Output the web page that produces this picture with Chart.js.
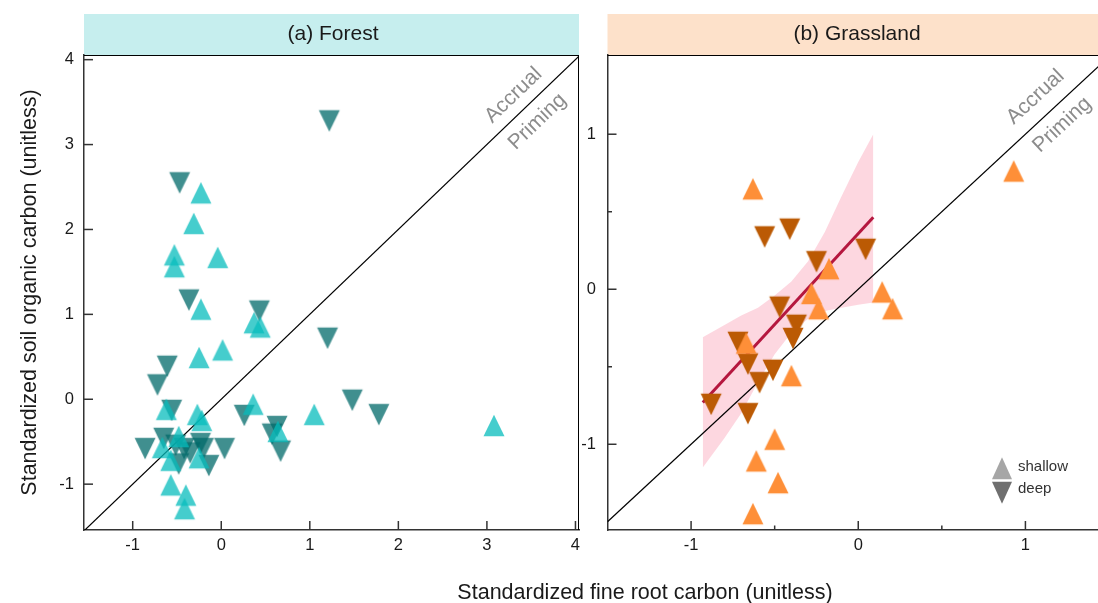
<!DOCTYPE html>
<html>
<head>
<meta charset="utf-8">
<script src="https://cdn.jsdelivr.net/npm/chart.js@4.4.0/dist/chart.umd.min.js"></script>
<style>
  html, body { margin: 0; padding: 0; background: #fff; overflow: hidden; }
  #wrap { position: relative; width: 1098px; height: 603px; overflow: hidden; font-family: 'Liberation Sans', Arial, Helvetica, sans-serif; }
  #boxB { position: absolute; left: 560px; top: 0; width: 560px; height: 603px; }
  #boxA { position: absolute; left: 0; top: 0; width: 590px; height: 603px; }
  #xtitle { position: absolute; left: 0; top: 580px; width: 1290px; text-align: center; font-size: 21.5px; line-height: 25px; color: #1a1a1a; }
</style>
</head>
<body>
<div id="wrap">
  <div id="boxB"><canvas id="grassChart"></canvas></div>
  <div id="boxA"><canvas id="forestChart"></canvas></div>
  <div id="xtitle">Standardized fine root carbon (unitless)</div>
</div>
<script>
// Forest: shallow (up triangles) and deep (down triangles)
const forestShallowX = [-0.23, -0.31, -0.53, -0.53, -0.04, -0.23, 0.37, 0.44, 0.015, -0.25, -0.62, 0.36, 1.05, 3.08, -0.27, -0.22, 0.64, -0.48, -0.665, -0.57, -0.25, -0.57, -0.40, -0.415];
const forestShallowY = [2.39, 2.03, 1.66, 1.52, 1.63, 1.02, 0.86, 0.81, 0.54, 0.45, -0.16, -0.10, -0.22, -0.35, -0.22, -0.29, -0.42, -0.48, -0.61, -0.76, -0.73, -1.05, -1.17, -1.33];
const forestDeepX = [1.22, -0.47, -0.365, 0.43, 1.20, -0.61, -0.72, -0.56, 0.26, 1.48, 1.78, 0.63, 0.575, 0.67, -0.65, -0.86, -0.515, -0.42, -0.35, -0.235, -0.20, 0.037, -0.48, -0.14];
const forestDeepY = [3.32, 2.59, 1.21, 1.08, 0.76, 0.43, 0.21, -0.09, -0.15, 0.03, -0.14, -0.28, -0.37, -0.57, -0.42, -0.54, -0.50, -0.54, -0.59, -0.48, -0.54, -0.54, -0.72, -0.74];

// Grassland
const grassShallowX = [0.93, -0.63, -0.175, 0.143, 0.205, -0.28, -0.237, -0.67, -0.40, -0.50, -0.61, -0.48, -0.63];
const grassShallowY = [0.74, 0.625, 0.11, -0.04, -0.148, -0.05, -0.148, -0.37, -0.58, -0.99, -1.13, -1.27, -1.47];
const grassDeepX = [-0.56, -0.41, -0.25, 0.044, -0.47, -0.37, -0.39, -0.72, -0.66, -0.51, -0.59, -0.88, -0.66];
const grassDeepY = [0.36, 0.41, 0.20, 0.28, -0.093, -0.21, -0.295, -0.32, -0.46, -0.50, -0.58, -0.72, -0.78];

// grassland fit and its confidence band
const fitX = [-0.93, 0.09];
const fitY = [-0.73, 0.465];
const bandX = [-0.93, -0.8, -0.7, -0.6, -0.5, -0.4, -0.3, -0.2, -0.1, 0, 0.09];
const bandUpper = [-0.31, -0.23, -0.17, -0.12, -0.04, 0.05, 0.18, 0.37, 0.6, 0.82, 1.0];
const bandLower = [-1.15, -0.96, -0.8, -0.6, -0.42, -0.28, -0.19, -0.14, -0.12, -0.1, -0.086];

// axis ranges and ticks
const forestXRange = [-1.55, 4.04];
const forestYRange = [-1.54, 4.055];
const forestTicks = [-1, 0, 1, 2, 3, 4];
const grassXRange = [-1.5, 1.5];
const grassYRange = [-1.553, 1.511];
const grassTicks = [-1, 0, 1];
const grassMinorTicks = [-0.5, 0.5];

Chart.defaults.font.family = "'Liberation Sans', Arial, Helvetica, sans-serif";
Chart.defaults.color = '#1a1a1a';

function pts(xs, ys) {
    return xs.map((x, i) => ({ x: x, y: ys[i] }));
}

// triangle drawn with its centroid at the middle of a small canvas
function triangleImage(color, w, h, down) {
    var s = Math.ceil(h * 2 / 3) * 2 + 2;
    var c = document.createElement('canvas');
    c.width = s; c.height = s;
    var g = c.getContext('2d');
    var m = s / 2, d = down ? -1 : 1;
    g.fillStyle = color;
    g.beginPath();
    g.moveTo(m, m - d * h * 2 / 3);
    g.lineTo(m + w / 2, m + d * h / 3);
    g.lineTo(m - w / 2, m + d * h / 3);
    g.closePath();
    g.fill();
    return c;
}

function drawTri(ctx, cx, cy, w, h, down, color) {
    var d = down ? -1 : 1;
    ctx.fillStyle = color;
    ctx.beginPath();
    ctx.moveTo(cx, cy - d * h * 2 / 3);
    ctx.lineTo(cx + w / 2, cy + d * h / 3);
    ctx.lineTo(cx - w / 2, cy + d * h / 3);
    ctx.closePath();
    ctx.fill();
}

function panelPlugin(opts) {
    return {
        id: 'panel',
        beforeDraw(chart) {
            var ctx = chart.ctx, a = chart.chartArea;
            ctx.save();
            if (opts.whiteArea) {
                // panel background also hides the minus of the neighbour's -1
                ctx.fillStyle = '#fff';
                ctx.fillRect(a.left, a.top, a.right - a.left + 1.5, a.bottom - a.top);
            }
            // strip header
            ctx.fillStyle = opts.stripColor;
            ctx.fillRect(a.left, 14, a.right - a.left, a.top - 14);
            ctx.fillStyle = '#1a1a1a';
            ctx.font = "21px 'Liberation Sans', Arial, sans-serif";
            ctx.textAlign = 'center';
            ctx.textBaseline = 'middle';
            ctx.fillText(opts.title, opts.titleX !== undefined ? opts.titleX : (a.left + a.right) / 2 + 1.5, 34.5);
            ctx.restore();
        },
        afterDatasetsDraw(chart) {
            var ctx = chart.ctx, x = chart.scales.x, y = chart.scales.y;
            var ang = Math.atan2(y.getPixelForValue(0) - y.getPixelForValue(1), x.getPixelForValue(1) - x.getPixelForValue(0));
            ctx.save();
            ctx.fillStyle = '#8c8c8c';
            ctx.font = "21px 'Liberation Sans', Arial, sans-serif";
            ctx.textAlign = 'center';
            ctx.textBaseline = 'middle';
            opts.notes.forEach(function (n) {
                ctx.save();
                ctx.translate(x.getPixelForValue(n.x), y.getPixelForValue(n.y));
                ctx.rotate(-ang);
                ctx.fillText(n.text, 0, 0);
                ctx.restore();
            });
            ctx.restore();
        },
        afterDraw(chart) {
            var ctx = chart.ctx, a = chart.chartArea, x = chart.scales.x, y = chart.scales.y;
            ctx.save();
            // thin frame on top and right
            ctx.strokeStyle = '#000';
            ctx.lineWidth = 1;
            ctx.beginPath();
            ctx.moveTo(a.left, a.top + 0.5);
            ctx.lineTo(a.right, a.top + 0.5);
            ctx.moveTo(a.right - 0.5, a.top);
            ctx.lineTo(a.right - 0.5, a.bottom);
            ctx.stroke();
            // inward tick marks
            ctx.strokeStyle = '#333';
            ctx.lineWidth = 1.5;
            x.ticks.forEach(function (t) {
                var px = x.getPixelForValue(t.value);
                var len = t.label === '' ? 4.5 : 9;
                ctx.beginPath();
                ctx.moveTo(px, a.bottom);
                ctx.lineTo(px, a.bottom - len);
                ctx.stroke();
            });
            y.ticks.forEach(function (t) {
                var py = y.getPixelForValue(t.value);
                var len = t.label === '' ? 4.5 : 9;
                ctx.beginPath();
                ctx.moveTo(a.left, py);
                ctx.lineTo(a.left + len, py);
                ctx.stroke();
            });
            if (opts.legend) {
                var lx = a.right - 107, ly = a.bottom - 58;
                drawTri(ctx, lx, ly, 20, 22, false, '#a6a6a6');
                drawTri(ctx, lx, ly + 17, 20, 22, true, '#6f6f6f');
                ctx.fillStyle = '#333';
                ctx.font = "15px 'Liberation Sans', Arial, sans-serif";
                ctx.textAlign = 'left';
                ctx.textBaseline = 'middle';
                ctx.fillText('shallow', lx + 16, ly - 5);
                ctx.fillText('deep', lx + 16, ly + 17);
            }
            ctx.restore();
        }
    };
}

function axisOpts(range, ticks, minor, width, height, pad, title) {
    var all = ticks.concat(minor || []);
    var o = {
        type: 'linear',
        min: range[0],
        max: range[1],
        grid: { display: false, drawTicks: false },
        border: { display: true, color: '#333', width: 1.5 },
        afterBuildTicks: function (s) { s.ticks = all.map(function (v) { return { value: v }; }); },
        ticks: {
            font: { size: 16.5 },
            color: '#1a1a1a',
            padding: pad,
            maxRotation: 0,
            autoSkip: false,
            callback: function (v) { return ticks.indexOf(v) >= 0 ? String(v) : ''; }
        }
    };
    if (width) o.afterFit = function (s) { s.width = width; };
    if (height) o.afterFit = function (s) { s.height = height; };
    if (title) o.title = { display: true, text: title, font: { size: 21.5 }, color: '#1a1a1a', padding: { top: 17, bottom: 0 } };
    return o;
}

var shallowTeal = triangleImage('rgba(7,188,188,0.75)', 21, 21.5, false);
var deepTeal = triangleImage('rgba(0,106,106,0.75)', 21, 21.5, true);
var shallowOrange = triangleImage('rgb(254,143,56)', 21, 21.5, false);
var deepOrange = triangleImage('rgb(187,90,4)', 21, 21.5, true);

new Chart(document.getElementById('forestChart'), {
    type: 'scatter',
    data: {
        datasets: [{
            label: 'shallow',
            data: pts(forestShallowX, forestShallowY),
            pointStyle: shallowTeal,
            pointRadius: 10,
            order: 0
        }, {
            label: 'deep',
            data: pts(forestDeepX, forestDeepY),
            pointStyle: deepTeal,
            pointRadius: 10,
            order: 1
        }, {
            type: 'line',
            label: '1:1',
            data: pts(forestXRange, forestXRange),
            borderColor: '#000',
            borderWidth: 1.2,
            pointRadius: 0,
            fill: false,
            order: 2
        }]
    },
    options: {
        responsive: true,
        maintainAspectRatio: false,
        animation: false,
        devicePixelRatio: 1,
        layout: { padding: { top: 55, right: 6.5, bottom: 0, left: 0 } },
        plugins: { legend: { display: false }, tooltip: { enabled: false } },
        scales: {
            x: axisOpts(forestXRange, forestTicks, null, 0, 73, 6),
            y: axisOpts(forestYRange, forestTicks, null, 84, 0, 10, 'Standardized soil organic carbon (unitless)')
        }
    },
    plugins: [panelPlugin({
        title: '(a) Forest',
        stripColor: '#c6eeee',
        whiteArea: true,
        notes: [{ text: 'Accrual', x: 3.3, y: 3.58 }, { text: 'Priming', x: 3.57, y: 3.27 }]
    })]
});

new Chart(document.getElementById('grassChart'), {
    type: 'scatter',
    data: {
        datasets: [{
            label: 'shallow',
            data: pts(grassShallowX, grassShallowY),
            pointStyle: shallowOrange,
            pointRadius: 10,
            order: 0
        }, {
            label: 'deep',
            data: pts(grassDeepX, grassDeepY),
            pointStyle: deepOrange,
            pointRadius: 10,
            order: 1
        }, {
            type: 'line',
            label: 'fit',
            data: pts(fitX, fitY),
            borderColor: '#b5173f',
            borderWidth: 3,
            pointRadius: 0,
            fill: false,
            order: 2
        }, {
            type: 'line',
            label: '1:1',
            data: pts(grassXRange, grassXRange),
            borderColor: '#000',
            borderWidth: 1.2,
            pointRadius: 0,
            fill: false,
            order: 3
        }, {
            type: 'line',
            label: 'upper',
            data: pts(bandX, bandUpper),
            borderWidth: 0,
            borderColor: 'rgba(0,0,0,0)',
            backgroundColor: 'rgba(251,182,198,0.55)',
            pointRadius: 0,
            fill: '+1',
            order: 4
        }, {
            type: 'line',
            label: 'lower',
            data: pts(bandX, bandLower),
            borderWidth: 0,
            borderColor: 'rgba(0,0,0,0)',
            pointRadius: 0,
            fill: false,
            order: 5
        }]
    },
    options: {
        responsive: true,
        maintainAspectRatio: false,
        animation: false,
        devicePixelRatio: 1,
        layout: { padding: { top: 55, right: 10, bottom: 0, left: 0 } },
        plugins: { legend: { display: false }, tooltip: { enabled: false } },
        scales: {
            x: axisOpts(grassXRange, grassTicks, grassMinorTicks, 0, 73, 6),
            y: axisOpts(grassYRange, grassTicks, grassMinorTicks, 47.5, 0, 11.5)
        }
    },
    plugins: [panelPlugin({
        title: '(b) Grassland',
        titleX: 297,
        stripColor: '#fde1ca',
        legend: true,
        notes: [{ text: 'Accrual', x: 1.06, y: 1.24 }, { text: 'Priming', x: 1.22, y: 1.06 }]
    })]
});
</script>
</body>
</html>
